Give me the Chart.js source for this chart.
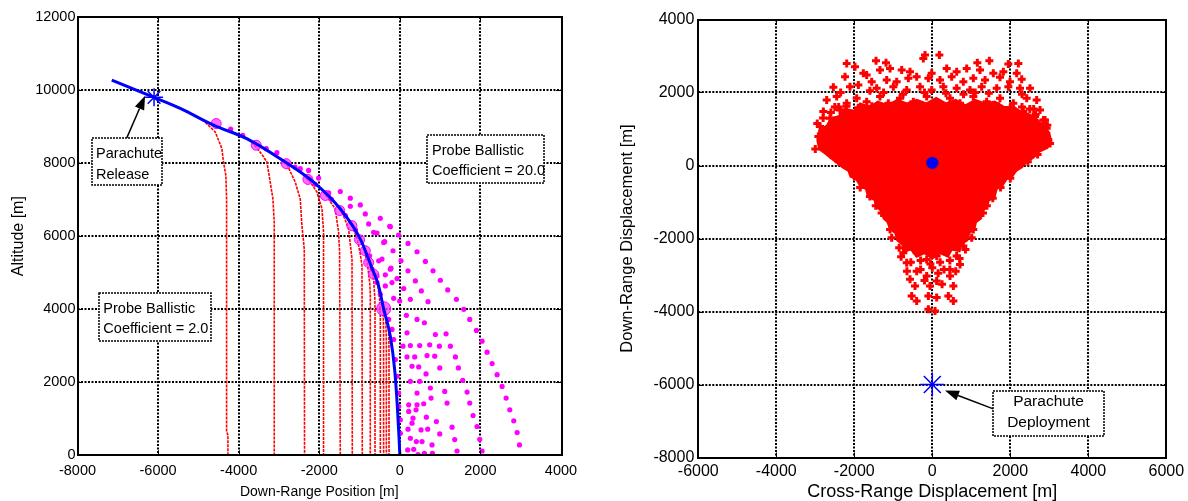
<!DOCTYPE html>
<html>
<head>
<meta charset="utf-8">
<script src="https://cdn.jsdelivr.net/npm/chart.js@4.4.0/dist/chart.umd.min.js"></script>
<style>
body{margin:0;background:#fff;}
#wrap{position:relative;width:1188px;height:501px;overflow:hidden;}
#left{position:absolute;left:0;top:0;}
#right{position:absolute;left:600px;top:0;}
</style>
</head>
<body>
<div id="wrap">
<canvas id="left" width="580" height="501"></canvas>
<canvas id="right" width="588" height="501"></canvas>
</div>
<script>
/*---- left plot: trajectories ----*/
var leftXTicks = [-8000, -6000, -4000, -2000, 0, 2000, 4000];
var leftYTicks = [0, 2000, 4000, 6000, 8000, 10000, 12000];

// nominal descent (blue)
var nominalX = [-7150, -6100, -5450, -4625, -3800, -2970, -2140, -1480, -980, -700, -527, -400, -236, -129, -67, -20, 0];
var nominalY = [10270, 9800, 9500, 9040, 8670, 8120, 7480, 6750, 5920, 5150, 4640, 4000, 3260, 2350, 1430, 500, 0];

// parachute release (blue star)
var releaseX = [-6100];
var releaseY = [9800];

// ballistic coefficient 2.0 tracks (red)
var redTrackX = [
	[-4900, -4583, -4417, -4377, -4317, -4300, -4300, -4267, -4267],
	[-3750, -3550, -3400, -3299, -3217, -3150, -3117, -3117],
	[-2950, -2802, -2596, -2472, -2430, -2372, -2365],
	[-2400, -2200, -2057, -1932, -1893, -1893],
	[-1900, -1808, -1602, -1520, -1495, -1478],
	[-1480, -1396, -1272, -1187, -1180],
	[-1150, -1050, -980, -939, -932],
	[-900, -800, -745, -733, -733],
	[-720, -650, -620, -616, -616],
	[-560, -505, -486, -484, -484],
	[-440, -410, -403, -402],
	[-350, -338, -335, -335],
	[-280, -270, -268, -268]
];
var redTrackY = [
	[9190, 8855, 8400, 8030, 7660, 7000, 650, 550, 0],
	[8640, 8420, 8200, 8030, 7480, 7020, 6380, 0],
	[8105, 7960, 7480, 7020, 6290, 5650, 0],
	[7680, 7450, 7205, 6746, 6105, 0],
	[7215, 7080, 6746, 6105, 5555, 0],
	[6750, 6560, 6196, 5371, 0],
	[6202, 5900, 5500, 5187, 0],
	[5700, 5200, 4700, 4400, 0],
	[5205, 4800, 4300, 4000, 0],
	[4737, 4300, 3900, 3600, 0],
	[4202, 3800, 3400, 0],
	[3774, 3300, 3000, 0],
	[3459, 3000, 2600, 0]
];

// ballistic coefficient 20.0 samples (magenta dots)
var dotX = [-774, -252, -567, -29, -376, 203, -169, 427, 29, 634, -525, -219, 203, 824, -360, -70, 385, 1006, -194, 96,
	534, 1189, 261, 700, 1404, -4, -153, 1586, 162, 427, 1735, 609, 1901, 178, 882, 1147, 2041, 79, 261, 493,
	741, 982, 1255, 2166, 178, 369, 675, 866, 1379, 2290, 303, 468, 650, 990, 1454, 2414, 261, 493, 1561, 2538,
	427, 758, 1114, 1669, 2638, 220, 427, 592, 775, 1172, 1735, 2729, 220, 402, 659, 907, 1296, 1818, 2828, 327,
	303, 526, 692, 990, 1917, 2911, 203, 261, 410, 551, 799, 1362, 1983, 2969, 195, 344, 609, 808, 1420, 2041, 452,
	-3316, -3051, -2471, -2264, -2239, -2016, -1767, -1478, -1229, -981, -1229, -857, -484, -236, -650, -401, -443, -236, -567, -360,
	-749, -691, -567, -484, -277, -194, -153, -112, -70, -29, -29, 13, 13,
	-4200, -3900, -2600, -2100, -1700, -1350, -1100];
var dotY = [6334, 6269, 6086, 6031, 5848, 5802, 5600, 5573, 5325, 5307, 5325, 5123, 5050, 5050, 4940, 4839, 4775, 4793, 4729, 4564,
	4500, 4528, 4271, 4207, 4271, 4225, 4298, 3996, 3831, 3721, 3721, 3629, 3418, 3354, 3308, 3327, 3125, 2988, 3006, 3006,
	3024, 2988, 2988, 2823, 2694, 2694, 2731, 2713, 2694, 2511, 2438, 2419, 2227, 2392, 2392, 2208, 2025, 2025, 2053, 1887,
	1704, 1842, 1750, 1732, 1567, 1383, 1383, 1411, 1567, 1429, 1429, 1246, 1200, 1246, 1044, 925, 769, 1090, 943, 1017,
	879, 696, 714, 586, 788, 622, 714, 467, 375, 375, 283, 430, 439, 283, 146, 164, 54, 54, 118, 118, 20,
	8396, 8286, 7846, 7800, 7571, 7589, 7186, 7223, 7039, 6856, 6819, 6608, 6489, 6260, 6104, 5829, 5371, 5096, 4912, 4637,
	5463, 5096, 4729, 4408, 3721, 3446, 3171, 2621, 2163, 1704, 1338, 971, 604,
	8930, 8760, 7890, 7420, 7010, 6560, 6170];

// branch points along the nominal (large magenta)
var branchX = [-4558, -3564, -2819, -2281, -1850, -1494, -1188, -1000, -857, -774, -650, -401];
var branchY = [9083, 8488, 7983, 7553, 7113, 6700, 6288, 5900, 5600, 5279, 4958, 4014];

var releaseText = ["Parachute", "Release"];
var probe20Text = ["Probe Ballistic", "Coefficient = 20.0"];
var probe2Text = ["Probe Ballistic", "Coefficient = 2.0"];

/*---- right plot: landing footprint ----*/
var rightXTicks = [-6000, -4000, -2000, 0, 2000, 4000, 6000];
var rightYTicks = [-8000, -6000, -4000, -2000, 0, 2000, 4000];

// outline of the dense part of the footprint
var coreX = [-2950, -2900, -2700, -2600, -2400, -2250, -2000, -1850, -1600, -1400, -1150, -900, -650, -400, -150, 100, 350, 600, 850, 1100,
	1350, 1600, 1850, 2100, 2300, 2500, 2700, 2850, 3000, 3050, 2950, 2750, 2600, 2400, 2300, 2150, 2050, 1900, 1800, 1650,
	1600, 1450, 1400, 1280, 1250, 1120, 1080, 950, 900, 750, 700, 500, 400, 200, 0, -200, -400, -550, -700, -780,
	-900, -950, -1080, -1150, -1250, -1300, -1420, -1480, -1650, -1700, -1850, -1950, -2100, -2150, -2300, -2450, -2600, -2750, -2900, -2950];
var coreY = [700, 950, 1100, 1300, 1350, 1550, 1500, 1700, 1600, 1750, 1650, 1800, 1700, 1800, 1700, 1850, 1700, 1800, 1650, 1800,
	1700, 1750, 1600, 1600, 1450, 1400, 1250, 1100, 900, 650, 480, 380, 220, 80, -50, -150, -300, -380, -550, -650,
	-850, -950, -1150, -1250, -1450, -1550, -1750, -1850, -2050, -2150, -2350, -2300, -2500, -2400, -2550, -2400, -2500, -2300, -2350, -2150,
	-2050, -1850, -1750, -1550, -1450, -1250, -1150, -950, -850, -650, -550, -380, -300, -150, -50, 80, 200, 330, 450, 700];

// scattered landing points outside the dense part
var plusX = [-187, 181, -2195, -1443, -1187, -230, 1155, 1463, 1950, 2206, -1982, -1768, -1341, -1084, -785, -571, -16, 369, 625, 882,
	1223, 1565, 1822, 2164, -2238, -1683, -1554, -1170, -913, -614, -401, -101, 198, 497, 796, 1052, 1352, 1736, 1993, 2292,
	-2537, -2110, -1896, -1426, -999, -657, -315, -16, 283, 625, 967, 1266, 1651, 1950, 2249, 2505, -2708, -2452, -2195, -1939,
	-1683, -1341, -1127, -828, -486, -144, 112, 454, 711, 1052, 1394, 1736, 2078, 2420, 2676, -2794, -2623, -2366, -2024, -1768,
	-1426, -1084, -742, -401, -59, 283, 625, 967, 1309, 1651, 1993, 2334, 2634, 2762, 2890, -2879, -2537, 2591, 2933, -2922, 2976,
	-2350, -1250, -750, -200, 350, 800, 1450, 2300, -1600, 1100,
	-2500, -2200, -1900, -1550, -1200, -850, -550, -250, 50, 400, 750, 1050, 1350, 1700, 2000, 2300, 2600,
	-2950, -2800, -2600, -2400, 2850, 2650, 2500, 2950, -3000, 3020,
	-2600, -2400, -2000, -1850, -1600, -1450, -1300, 2700, 2450, 2000, 1750, 1550, 1400, 1300,
	-1341, -1084, -1042, 1052, 1010, 1394, -742, -657, -401, -144, 112, 369, 625, 796, 711, -571, -443, -144, -59, 112,
	454, 540, -529, -401, -101, 112, 411, 540, -101, 70, -300, 300, 600, -650, 0,
	-800, -550, -300, -50, 200, 450, 700, 850, -850, -400, 150, 450, -200, 250];
var plusY = [3024, 3024, 2797, 2870, 2815, 2933, 2815, 2870, 2779, 2797, 2706, 2524, 2615, 2660, 2615, 2569, 2524, 2660, 2569, 2660,
	2615, 2524, 2569, 2524, 2433, 2478, 2296, 2342, 2296, 2387, 2433, 2387, 2342, 2433, 2296, 2387, 2342, 2415, 2296, 2360,
	2142, 2160, 2205, 2114, 2160, 2069, 2160, 2069, 2160, 2114, 2069, 2160, 2114, 2160, 2114, 2114, 1796, 1887, 1705, 1841,
	1750, 1887, 1705, 1841, 1750, 1887, 1705, 1841, 1705, 1887, 1750, 1841, 1705, 1841, 1796, 1477, 1295, 1523, 1386, 1477,
	1295, 1523, 1386, 1477, 1341, 1477, 1341, 1477, 1341, 1477, 1341, 1477, 1341, 1523, 1250, 1068, 1113, 1113, 1022, 795, 704,
	2000, 2000, 1950, 2000, 1980, 1950, 1980, 1950, 2050, 2000,
	1600, 1620, 1580, 1620, 1600, 1650, 1620, 1600, 1650, 1600, 1620, 1650, 1600, 1620, 1580, 1600, 1550,
	1150, 1300, 1450, 1600, 1250, 1400, 1550, 1100, 450, 600,
	300, 100, -300, -600, -850, -1100, -1300, 300, 100, -350, -600, -900, -1100, -1300,
	-1025, -1753, -1981, -1753, -1981, -934, -2390, -2663, -2390, -2572, -2481, -2299, -2481, -2208, -2709, -3118, -3300, -3027, -3300, -3164,
	-3027, -3300, -3573, -3710, -3573, -3619, -3573, -3710, -3937, -3983, -2850, -2850, -2900, -2900, -2800,
	-2500, -2650, -2600, -2700, -2650, -2600, -2550, -2300, -2250, -2900, -2950, -2850, -3150, -3250];

// mean impact point and deployment point
var impactX = [0];
var impactY = [70];
var deployX = [0];
var deployY = [-6000];

var deployText = ["Parachute", "Deployment"];

Chart.defaults.font.family = '"Liberation Sans", Arial, Helvetica, sans-serif';
Chart.defaults.color = '#000';

function pts(xs, ys){
	var out = [];
	for(var i = 0; i < xs.length; i++){
		out.push({x: xs[i], y: ys[i]});
	}
	return out;
}

function axisOpts(lo, hi, tickList, tickSize, tickPad, title, titleSize, titlePad, fixed, isX){
	return {
		type: 'linear', min: lo, max: hi, position: isX ? 'bottom' : 'left',
		grid: {display: false, drawTicks: false},
		border: {display: false},
		ticks: {autoSkip: false, maxRotation: 0, padding: tickPad, color: '#000', font: {size: tickSize},
			callback: function(v){ return String(v); }},
		title: {display: true, text: title, color: '#000', font: {size: titleSize}, padding: titlePad},
		afterBuildTicks: function(s){
			s.ticks = tickList.map(function(v){ return {value: v}; });
		},
		afterFit: function(s){
			if(isX) s.height = fixed; else s.width = fixed;
			s.paddingLeft = 0; s.paddingRight = 0; s.paddingTop = 0; s.paddingBottom = 0;
		}
	};
}

/*dotted grid behind the data*/
var gridPlugin = {
	id: 'dotgrid',
	beforeDatasetsDraw: function(chart){
		var ctx = chart.ctx, a = chart.chartArea;
		var sx = chart.scales.x, sy = chart.scales.y;
		ctx.save();
		ctx.strokeStyle = '#000';
		ctx.lineWidth = 2;
		ctx.setLineDash([2, 1.5]);
		sx.ticks.forEach(function(t){
			var p = Math.round(sx.getPixelForValue(t.value));
			if(p <= a.left + 1 || p >= a.right - 1) return;
			ctx.beginPath(); ctx.moveTo(p, a.top); ctx.lineTo(p, a.bottom); ctx.stroke();
		});
		sy.ticks.forEach(function(t){
			var p = Math.round(sy.getPixelForValue(t.value));
			if(p <= a.top + 1 || p >= a.bottom - 1) return;
			ctx.beginPath(); ctx.moveTo(a.left, p); ctx.lineTo(a.right, p); ctx.stroke();
		});
		ctx.restore();
	}
};

/*axes box with inner tick marks, then the text boxes and arrows*/
var framePlugin = {
	id: 'frame',
	afterDatasetsDraw: function(chart, args, opts){
		var ctx = chart.ctx, a = chart.chartArea;
		var sx = chart.scales.x, sy = chart.scales.y;
		ctx.save();
		ctx.strokeStyle = '#000';
		ctx.lineWidth = 1;
		sx.ticks.forEach(function(t){
			var p = Math.round(sx.getPixelForValue(t.value)) + 0.5;
			ctx.beginPath(); ctx.moveTo(p, a.bottom); ctx.lineTo(p, a.bottom - 5);
			ctx.moveTo(p, a.top); ctx.lineTo(p, a.top + 5); ctx.stroke();
		});
		sy.ticks.forEach(function(t){
			var p = Math.round(sy.getPixelForValue(t.value)) + 0.5;
			ctx.beginPath(); ctx.moveTo(a.left, p); ctx.lineTo(a.left + 5, p);
			ctx.moveTo(a.right, p); ctx.lineTo(a.right - 5, p); ctx.stroke();
		});
		ctx.lineWidth = 2;
		ctx.strokeRect(Math.round(a.left), Math.round(a.top), Math.round(a.right - a.left), Math.round(a.bottom - a.top));

		(opts.notes || []).forEach(function(n){
			if(n.arrow){
				var tx = sx.getPixelForValue(n.arrow[0]), ty = sy.getPixelForValue(n.arrow[1]);
				var hx = sx.getPixelForValue(n.arrow[2]), hy = sy.getPixelForValue(n.arrow[3]);
				var ang = Math.atan2(hy - ty, hx - tx);
				var hl = 14, hw = 5;
				var bx = hx - hl * Math.cos(ang), by = hy - hl * Math.sin(ang);
				ctx.lineWidth = 1.5;
				ctx.setLineDash([]);
				ctx.beginPath(); ctx.moveTo(tx, ty); ctx.lineTo(bx, by); ctx.stroke();
				ctx.fillStyle = '#000';
				ctx.beginPath();
				ctx.moveTo(hx, hy);
				ctx.lineTo(bx + hw * Math.sin(ang), by - hw * Math.cos(ang));
				ctx.lineTo(bx - hw * Math.sin(ang), by + hw * Math.cos(ang));
				ctx.closePath(); ctx.fill();
			}
			var x0 = Math.round(sx.getPixelForValue(n.box[0])), y0 = Math.round(sy.getPixelForValue(n.box[1]));
			var x1 = Math.round(sx.getPixelForValue(n.box[2])), y1 = Math.round(sy.getPixelForValue(n.box[3]));
			ctx.fillStyle = '#fff';
			ctx.fillRect(x0, y0, x1 - x0, y1 - y0);
			ctx.lineWidth = 1.5;
			ctx.setLineDash([2, 1]);
			ctx.strokeRect(x0, y0, x1 - x0, y1 - y0);
			ctx.setLineDash([]);
			ctx.fillStyle = '#000';
			ctx.font = n.size + 'px "Liberation Sans", Arial, sans-serif';
			ctx.textAlign = n.align;
			ctx.textBaseline = 'middle';
			var px = sx.getPixelForValue(n.textX);
			for(var i = 0; i < n.lines.length; i++){
				ctx.fillText(n.lines[i], px, sy.getPixelForValue(n.lineY[i]));
			}
		});
		ctx.restore();
	}
};

/*left chart*/
function leftChart(){
	var sets = [];
	sets.push({data: pts(releaseX, releaseY), pointStyle: 'star', pointRadius: 9, borderColor: '#0000ff', borderWidth: 1.5, order: 0});
	sets.push({data: pts(nominalX, nominalY), showLine: true, borderColor: '#0000ff', borderWidth: 3, pointRadius: 0,
		cubicInterpolationMode: 'monotone', order: 1});
	sets.push({data: pts(branchX, branchY), backgroundColor: 'rgba(255,60,255,0.75)', borderColor: '#ff00ff', borderWidth: 1,
		pointRadius: function(c){ return c.dataIndex === branchX.length - 1 ? 7 : 5; }, order: 2});
	sets.push({data: pts(dotX, dotY), pointRadius: 2.6, backgroundColor: '#ff00ff', borderWidth: 0, order: 3});
	for(var i = 0; i < redTrackX.length; i++){
		sets.push({data: pts(redTrackX[i], redTrackY[i]), showLine: true, borderColor: '#ff0000', borderWidth: 1.6,
			borderDash: [3, 1], pointRadius: 0, tension: 0, order: 4});
	}
	new Chart(document.getElementById('left'), {
		type: 'scatter',
		data: {datasets: sets},
		options: {
			responsive: false, animation: false, events: [],
			layout: {padding: {left: 0, right: 19, top: 17, bottom: 0}},
			plugins: {
				legend: {display: false}, tooltip: {enabled: false},
				frame: {notes: [
					{box: [-7638, 8698, -5900, 7406], lines: releaseText, textX: -7539, lineY: [8258, 7681], align: 'left', size: 14.5,
						arrow: [-6776, 8690, -6322, 9845]},
					{box: [683, 8770, 3589, 7452], lines: probe20Text, textX: 800, lineY: [8322, 7772], align: 'left', size: 14.5},
					{box: [-7457, 4455, -4690, 3143], lines: probe2Text, textX: -7358, lineY: [4015, 3465], align: 'left', size: 14.5}
				]}
			},
			scales: {
				x: axisOpts(-8000, 4000, leftXTicks, 14.5, 7, 'Down-Range Position [m]', 14, {top: 0, bottom: 0}, 45.7, true),
				y: axisOpts(0, 12000, leftYTicks, 14.5, 2, 'Altitude [m]', 16, {top: 9, bottom: 0}, 77.5, false)
			}
		},
		plugins: [gridPlugin, framePlugin]
	});
}

/*right chart*/
function rightChart(){
	var sets = [];
	sets.push({data: pts(deployX, deployY), pointStyle: 'star', pointRadius: 12, borderColor: '#0000ff', borderWidth: 1.5, order: 0});
	sets.push({data: pts(impactX, impactY), pointRadius: 5.5, backgroundColor: '#0000ff', borderColor: '#1010cc', borderWidth: 1.5, order: 1});
	sets.push({data: pts(plusX, plusY), pointStyle: 'cross', pointRadius: 4, borderColor: '#ff0000', borderWidth: 3, order: 2});
	sets.push({data: pts(coreX, coreY), showLine: true, fill: 'shape', backgroundColor: '#ff0000', borderColor: '#ff0000',
		borderWidth: 2, pointRadius: 0, tension: 0, order: 3});
	new Chart(document.getElementById('right'), {
		type: 'scatter',
		data: {datasets: sets},
		options: {
			responsive: false, animation: false, events: [],
			layout: {padding: {left: 0, right: 21.7, top: 19.5, bottom: 0}},
			plugins: {
				legend: {display: false}, tooltip: {enabled: false},
				frame: {notes: [
					{box: [1564, -6167, 4402, -7423], lines: deployText, textX: 2979, lineY: [-6484, -7049], align: 'center', size: 15.5,
						arrow: [1564, -6667, 326, -6167]}
				]}
			},
			scales: {
				x: axisOpts(-6000, 6000, rightXTicks, 16, 4, 'Cross-Range Displacement [m]', 18, {top: 0, bottom: -1.5}, 43.5, true),
				y: axisOpts(-8000, 4000, rightYTicks, 16, 4, 'Down-Range Displacement [m]', 16.5, {top: 18, bottom: 0}, 98.3, false)
			}
		},
		plugins: [gridPlugin, framePlugin]
	});
}

leftChart();
rightChart();
</script>
</body>
</html>
